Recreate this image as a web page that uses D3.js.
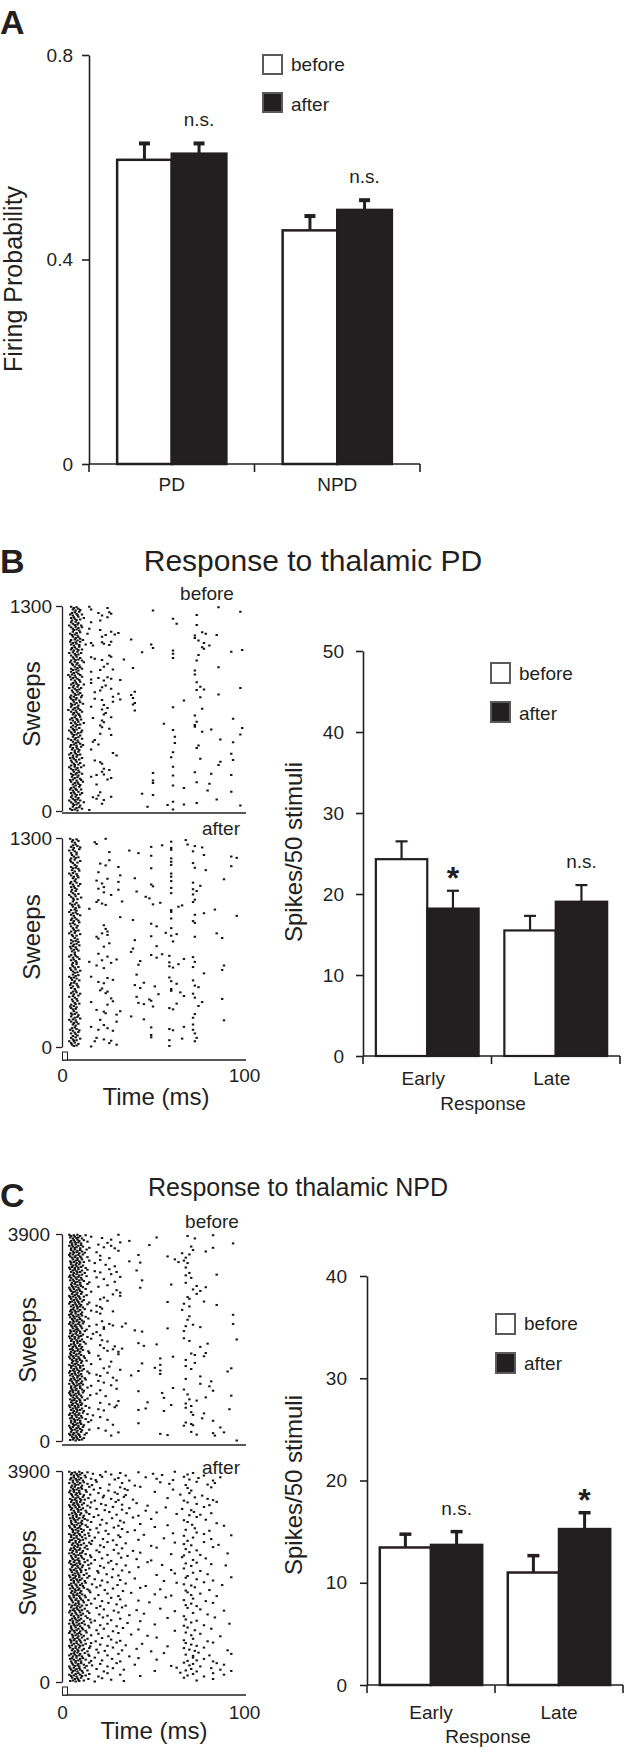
<!DOCTYPE html>
<html><head><meta charset="utf-8">
<script src="https://cdn.jsdelivr.net/npm/d3@7"></script>
<style>
body{margin:0;background:#fff}
svg text{font-family:"Liberation Sans",Arial,Helvetica,sans-serif;fill:#231f20}
</style>
</head><body>
<svg id="fig" width="625" height="1754"></svg>
<script>
// ---------------- DATA ----------------
// Panel A: firing probability
const aCategories = ["PD", "NPD"];
const aBefore = [0.595, 0.457];
const aBeforeErr = [0.032, 0.028];
const aAfter = [0.607, 0.497];
const aAfterErr = [0.020, 0.019];
const aTicks = [0, 0.4, 0.8];
const aSig = ["n.s.", "n.s."];

// Panel B: spikes / 50 stimuli (thalamic PD)
const bCategories = ["Early", "Late"];
const bBefore = [24.3, 15.5];
const bBeforeErr = [2.2, 1.8];
const bAfter = [18.2, 19.05];
const bAfterErr = [2.2, 2.05];
const bTicks = [0, 10, 20, 30, 40, 50];
const bSig = ["*", "n.s."];

// Panel C: spikes / 50 stimuli (thalamic NPD)
const cCategories = ["Early", "Late"];
const cBefore = [13.45, 11.0];
const cBeforeErr = [1.3, 1.65];
const cAfter = [13.7, 15.25];
const cAfterErr = [1.3, 1.6];
const cTicks = [0, 10, 20, 30, 40];
const cSig = ["n.s.", "*"];

const legendLabels = ["before", "after"];
const rasterTimeTicks = [0, 100];
const bSweepTicks = [0, 1300];
const cSweepTicks = [0, 3900];

// Raster spike times (ms), one string per sweep band, top (last sweep) to bottom (sweep 0)
const bBeforeRows = [
"5 6 6.5 7.5 8 9 10 15 16 25 50 86",
"4.5 5.5 6 7 8 8.5 9.5 11 20 22 26 27 74 98",
"5 5.5 6.5 7 8 9 10 12 21 25 61",
"4 5 6 7 7.5 8.5 9 10.5 16 63 74",
"5 6 6.5 7.5 8 9 9.5 11 15 21",
"4.5 5.5 6 7 8 8.5 10 14 24 27 29 31 73 77 79 85",
"5 6 7 7.5 8.5 9 10 11.5 22 38 73 75",
"4.5 5 6 6.5 7.5 8 9.5 10 13 16 17 22 23 26 27 49 78 81",
"5 5.5 6.5 7 8 9 9.5 11 50 61 77 78 99",
"4 5 6 7 7.5 8.5 9 10.5 26 44 61 75 93",
"5 6 6.5 7.5 8 9 10 11 16 18 22 27 34 61 74",
"4.5 5.5 6 7 8 8.5 9.5 12 25",
"5 6 7 7.5 8.5 9 10 11 21 23 28 39 73 86",
"3.5 5 5.5 6.5 7 8 9 10 16 73",
"4.5 5 6 7 7.5 8.5 9.5 11 16 20 23 25 27 32",
"5 6 6.5 7.5 8 9 10 12 16 24 74",
"4 5.5 6 7 8 8.5 9.5 10.5 21 22 27 74 76 78 98",
"5 6 7 7.5 8.5 9 10 11 18 31 38 40 86",
"4.5 5 6 6.5 7.5 8 9.5 10.5 18 22 28 32 39 67 76",
"5 5.5 6.5 7 8 9 10 11.5 23 28 39 40",
"3.5 5 6 7 7.5 8.5 9 10 16 22 25 40 61 77",
"5 6 6.5 7.5 8 9 9.5 11 23 24 73",
"4.5 5.5 6 7 8 8.5 10 10.5 17 22 27 94",
"5 6 7 7.5 8.5 9 10 12 21 23 56 73 74",
"4 5 6 6.5 7.5 8 9.5 11 22 26 61 73 82 99",
"5 5.5 6.5 7 8 9 10 10.5 21 27 77 98",
"3.5 5 6 7 7.5 8.5 9 11 18 62 87",
"5 6 6.5 7.5 8 9 10 11.5 17 20 62 75 94",
"4.5 5.5 6 7 8 8.5 9.5 10.5 16 74",
"4 5 6 7 7.5 8.5 9 10 28 30 61 93",
"4.5 5 6 6.5 7.5 8 9.5 11 18 60 76 94",
"5 5.5 6.5 7 8 9 10 12 21 22 86 87",
"4 5 6 7 7.5 8.5 9 10.5 23 26 61",
"5 6 6.5 7.5 8 9 9.5 11 19 22 23 50 61 73 82 93",
"4.5 5.5 6 7 8 8.5 10 10.5 16 25 27 50",
"5 6 7 7.5 8.5 9 10 11.5 19 50 61 74 81",
"4.5 5 6 6.5 7.5 8 9.5 10.5 67 80",
"5 5.5 6.5 7 8 9 10 11 20 21 44 50 93",
"4 5 6 7 7.5 8.5 9 10 17 19 23 27 85",
"5 6 6.5 7.5 8 9 10 12 22 58 61 67 74 98",
"4.5 5.5 6 7 8 8.5 9.5 11 15 47 61"
];
const bAfterRows = [
"4.5 5.5 6 7 8 9 18 24 60 68",
"5 6 6.5 7.5 8.5 10 19 49 55 60 69 73 77",
"4 5 6 7 8 9.5 26 37 42 60 72",
"5 5.5 6.5 7.5 8 9 49 60 78 93 96",
"4.5 5 6 7 8.5 10 21 26 60 72",
"5 6 7 7.5 8 9 24 31 49 60 73 93",
"4 5.5 6 7 8 9.5 20 60 79",
"5 6 6.5 7.5 8.5 9 25 32 40 60 89",
"4.5 5 6 7 8 10 19 22 31 49 60 72",
"5 5.5 6.5 7 8 9 20 23 31 50 60 72 76",
"4 5 6 7 7.5 9 23 27 41 60 72 74",
"5 6 6.5 7.5 8.5 10.5 20 46 48 73",
"4.5 5.5 6 7 8 9 19 22 24 33 50 54 66 72",
"5 6 7 7.5 8 9.5 15 60 64 84",
"4 5 6 6.5 7.5 8.5 10 60 73 78 96",
"5 5.5 6.5 7 8 9 32 39 60 72",
"4.5 5 6 7 8.5 9.5 23 49 52 73",
"5 6 6.5 7.5 8 9 24 25 60",
"4 5.5 6 7 8 10 19 22 25 49 57 60 63 73 85",
"5 6 7 7.5 8.5 9 20 40 61 88",
"4.5 5 6 6.5 7.5 8 9.5 23 26 52",
"5 5.5 6.5 7 8 9 38 39",
"4 5 6 7 7.5 8.5 20 25 49 52 55 59 72",
"5 6 6.5 7.5 8 9.5 15 22 27 30 43 59 67 73",
"4.5 5.5 6 7 8 9 19 23 42 59 61 64 72 89",
"5 6 7 7.5 8.5 10 78 88",
"4 5 6 6.5 7.5 8 9 16 25 41 59",
"5 5.5 6.5 7 8 9.5 20 23 28 45 60 63 72",
"4.5 5 6 7 8.5 9 22 40 43 51 60 73 75",
"5 6 6.5 7.5 8 10 21 24 25 53 60 65 72",
"4 5.5 6 7 8 9 27 41 48 67 73 88",
"5 6 7 7.5 8.5 9.5 16 25 28 42 45 49 63 77",
"4.5 5 6 6.5 7.5 8 19 50 59 61 75",
"5 5.5 6.5 7 8 9 23 24 30 32 73",
"4 5 6 7 7.5 8.5 10 21 38 45 72 89",
"5 6 6.5 7.5 8 9 23 30 72",
"4.5 5.5 6 7 8 9.5 16 20 25 28 49 59 61 67 72",
"5 6 7 7.5 8.5 9 49 73",
"4 5 6 6.5 7.5 8 10 18 19 23 27 49 59 66 73 74",
"5 5.5 6.5 7 8 9 16 26 30 59"
];
const cBeforeRows = [
"4 4.5 5 6 6.5 7 8 8.5 9 10 11 13 16 22 31 52 69 73 83",
"4.5 5 5.5 6.5 7 7.5 8.5 9 9.5 10.5 12 14 25 27 32 37 94",
"4 5 5.5 6 7 7.5 8 9 10 10.5 11.5 15 20 23 27 29 48 71 83",
"4.5 5 6 6.5 7 8 8.5 9.5 10 11 12.5 13.5 19 31 66 72 79",
"4 4.5 5.5 6 7 7.5 8.5 9 10 10.5 11.5 14 21 26 42 58 68 70",
"4.5 5 6 6.5 7.5 8 8.5 9.5 10 11 12 15 18 21 37 43 62 64 67 69",
"4 5 5.5 6 7 7.5 8 9 9.5 10.5 11.5 13 24 29 68",
"4.5 5 6 6.5 7 8 8.5 9 10 11 12.5 14 18 21 26 30 41 70",
"4 4.5 5 6 6.5 7.5 8 9 9.5 10.5 11 13.5 19 27 32 68 71 85",
"4.5 5.5 6 6.5 7.5 8 8.5 9.5 10 11 12 15 23 29 44 68",
"4 5 5.5 6 7 7.5 8.5 9 10 10.5 11.5 14 20 25 43 60 74 79",
"4.5 5 6 6.5 7 8 8.5 9.5 10 11 13 16 30 32 72 76",
"4 4.5 5.5 6 7 7.5 8 9 9.5 10.5 12 13.5 23 28 32 69 74",
"4.5 5 5.5 6.5 7 8 8.5 9 10 11 12 15 21 25 58 70 78",
"4 5 6 6.5 7.5 8 8.5 9.5 10 10.5 11.5 14 19 21 67 70 85",
"4.5 5 5.5 6 7 7.5 8.5 9 10 11 12.5 16 19 22 28 66",
"4 4.5 5 6 6.5 7.5 8 9 9.5 10.5 11 13 21 70 94",
"4.5 5.5 6 6.5 7 8 8.5 9.5 10 11 12 14.5 22 69",
"4 5 5.5 6 7 7.5 8 9 10 10.5 11.5 15 19 23 26 28 33 35 68 72 76 94",
"4.5 5 6 6.5 7.5 8 8.5 9 10 11 12.5 13.5 19 23 40 44 58 67",
"4 4.5 5.5 6 7 7.5 8.5 9.5 10 10.5 11.5 14 17 21",
"4.5 5 5.5 6.5 7 8 8.5 9 10 11 12 16 22 25 67 70 96",
"4 5 6 6.5 7 7.5 8.5 9.5 10 11 13 21 29 42 45 52 76 80",
"4.5 5 5.5 6 7 8 8.5 9 10 10.5 11.5 14.5 23 25 28 31 33",
"4 4.5 5 6 6.5 7.5 8 9 9.5 10.5 12 15 20 31 61 71 73 78 79",
"4.5 5.5 6 6.5 7.5 8 8.5 9.5 10 11 12.5 13.5 21 27 54 68",
"4 5 5.5 6 7 7.5 8 9 10 10.5 11.5 16 26 44 54 68 73",
"4.5 5 6 6.5 7 8 8.5 9.5 10 11 12 14 23 32 42 51 54 71 91 93",
"4 4.5 5.5 6 7 7.5 8.5 9 9.5 10.5 11 15 19 21 25 38 54 76",
"4.5 5 5.5 6.5 7 8 8.5 9 10 11 12.5 13 20 28 30 68 82",
"4 5 6 6.5 7.5 8 8.5 9.5 10 10.5 11.5 16 23 27 76 81",
"4.5 5 5.5 6 7 7.5 8 9 10 11 12 14 21 30 42 61 67 83",
"4 4.5 5 6 6.5 7.5 8 9 9.5 10.5 11.5 15.5 19 24 55 69 93",
"4.5 5.5 6 6.5 7 8 8.5 9.5 10 11 12.5 14 31 56 70 74 79",
"4 5 5.5 6 7 7.5 8.5 9 10 10.5 11 13 21 26 30 47 60 68 71",
"4.5 5 6 6.5 7.5 8 8.5 9 10 11 12 15 20 23 29 42 46 56 68 92",
"4 4.5 5.5 6 7 7.5 8 9 9.5 10.5 11.5 14 17 71 72 78",
"4.5 5 5.5 6.5 7 8 8.5 9.5 10 11 13 16 21 25 77 83",
"4 5 6 6.5 7 7.5 8.5 9 10 10.5 12 14.5 28 42 67 68 71 72",
"4.5 5 5.5 6 7 8 8.5 9 10 11 11.5 15 20 24 87",
"4 4.5 5 6 6.5 7.5 8 9 9.5 10.5 12.5 13.5 27 31 54 58 71 74 83 84 89",
"4.5 5.5 6 6.5 7.5 8 8.5 9.5 10 11 12 96"
];
const cAfterRows = [
"4 5 5.5 6.5 7 8 8.5 9.5 10 11 12.5 14 17 21 24 27 32 35 42 50 55 62 69 72 78",
"4.5 5 6 6.5 7.5 8 9 9.5 10.5 11.5 13 16 18.5 22 29 31 37 46 52 61 67 70 75 83 87",
"4 5.5 6 7 7.5 8.5 9 10 11 12 14 16.5 19 26 33 40 54 59 68 74 80 84",
"4.5 5 6 6.5 7 8 9 9.5 10.5 11 13 15 17.5 21 25.5 32 34.5 36 43 61 69 71 82",
"4 5 5.5 6.5 7.5 8 8.5 9.5 10 12 13.5 15.5 20 23 29 30.5 35 51 65 70 77",
"4.5 5.5 6 7 7.5 8 9 10 10.5 11.5 12.5 14.5 18 22.5 27 31 34 39 58 67 73 80 83",
"4 5 6 6.5 7 8 8.5 9 10 11 12 14 16 21.5 24 29.5 33 41 47 69 74 81 85",
"4.5 5 5.5 6.5 7.5 8.5 9 9.5 10.5 11.5 13 15.5 19 23.5 28 33 37 46 57 66 71 78",
"4 5.5 6 7 7.5 8 9 10 10.5 12 13.5 15 20 26 30 35.5 42 52 63 70 72.5 76 82",
"4.5 5 6 6.5 7 8 8.5 9.5 11 11.5 12.5 14 17.5 22 27.5 32 39 49 67 74 79",
"4 5 5.5 6.5 7.5 8 9 10 10.5 11 13 16 21 24.5 31 34 43 58 69 71.5 85 89",
"4.5 5.5 6 7 7.5 8.5 9 9.5 10.5 12 14 15.5 19 24 28.5 33 40 51 68 73 81",
"4 5 6 6.5 7 8 8.5 9.5 10 11 12.5 14.5 15 20 25.5 31 36 45 61 67 74 78 93",
"4.5 5 5.5 6.5 7.5 8 9 10 11 11.5 13 16.5 18 22.5 28 32 42 56 69 72 82",
"4 5.5 6 7 7.5 8.5 9 9.5 10.5 12 13.5 15 16 21 25 30 35 49 62 67 71 78 86",
"4.5 5 6 6.5 7 8 8.5 9.5 10 11.5 12.5 14 19 23 28.5 33 39 52 68 74 83",
"4 5 5.5 6.5 7.5 8 9 10 10.5 11 13 15.5 20.5 25 31 36 43 60 67 70 76 91",
"4.5 5.5 6 7 7.5 8.5 9 9.5 11 12 14 16 18 22 27 32.5 41 49 66 72 79",
"4 5 6 6.5 7 8 8.5 9.5 10 11.5 12.5 14.5 16 21 25.5 30 35 47 55 68 71 74 82 90",
"4.5 5 5.5 6.5 7.5 8 9 10 10.5 11 13 15 19.5 23 28 33 42 60 67 76",
"4 5.5 6 7 7.5 8.5 9 9.5 10.5 12 13.5 15 20 24.5 31 37 52 62 69 72 80",
"4.5 5 6 6.5 7 8 8.5 9.5 10 11 12.5 14 18 22 27.5 32 40 56 68 74 83 93",
"4 5 5.5 6.5 7.5 8 9 10 11 11.5 13 16.5 21 25 30.5 35 46 63 67 71 78 88",
"4.5 5.5 6 7 7.5 8.5 9 9.5 10.5 12 14 15 19 23.5 28 33.5 43 54 68 73 81",
"4 5 6 6.5 7 8 8.5 9.5 10 11 12.5 15.5 20 25 31 38 51 60 69 71 76 85",
"4.5 5 5.5 6.5 7.5 8 9 10 10.5 11.5 13 14.5 18 22 27 32 42 57 67 72 79",
"4 5.5 6 7 7.5 8.5 9 9.5 11 12 13.5 16 21 25.5 30 35 48 68 71 74 83",
"4.5 5 6 6.5 7 8 8.5 9.5 10 11 12.5 14 19 23 28.5 33 41 54 62 69 76 89",
"4 5 5.5 6.5 7.5 8 9 10 10.5 11.5 13 15 20.5 25 31 37 45 67 72 80",
"4.5 5.5 6 7 7.5 8.5 9 9.5 10.5 12 14 15.5 18 22.5 27 32 43 58 68 74 84",
"4 5 6 6.5 7 8 8.5 9.5 10 11 12.5 14.5 16 21 25 30 36 51 67 71 78 92",
"4.5 5 5.5 6.5 7.5 8 9 10 11 11.5 13 15 19 23 28 33.5 42 62 69 73 82",
"4 5.5 6 7 7.5 8.5 9 9.5 10.5 12 13.5 16 20 25.5 31 38 47 68 71 76 87",
"4.5 5 6 6.5 7 8 8.5 9.5 10 11 12.5 14 18.5 22 27 32 52 67 72 80",
"4 5 5.5 6.5 7.5 8 9 10 10.5 11.5 13 15.5 16 21 25 30 35 44 58 68 71 74 83",
"4.5 5.5 6 7 7.5 8.5 9 9.5 11 12 14 15 19 23.5 28 33 41 49 67 70 73 78 91",
"4 5 6 6.5 7 8 8.5 9.5 10 11 12.5 14.5 15 20 25 31 37 56 68 72 75 81 93",
"4.5 5 5.5 6.5 7.5 8 9 10 10.5 11.5 13 16 18 22 27.5 32 42 52 69 72 74 78 83",
"4 5.5 6 7 7.5 8.5 9 9.5 10.5 12 13.5 15 16.5 21 25 30 40 60 67 70 72 76 85 89",
"4.5 5 6 6.5 7 8 8.5 9.5 10 11 12.5 14 19 23 28 34 51 63 68 71 74 82 87 93",
"4 5 5.5 6.5 7.5 8 9 10 11 11.5 13 15 20 25 32 43 65 69 72 78 83 89",
"4.5 5.5 6 7 7.5 8.5 9 9.5 10.5 12 14.5 18 22 27 34 67 74 83"
];

// ---------------- DRAWING ----------------
const INK = "#231f20";
const svg = d3.select("#fig");

function styleAxis(sel, fs, sw) {
  sel.selectAll("path.domain").attr("stroke", INK).attr("stroke-width", sw);
  sel.selectAll(".tick line").attr("stroke", INK).attr("stroke-width", sw);
  sel.selectAll(".tick text").attr("fill", INK).style("font-size", fs + "px")
     .style("font-family", '"Liberation Sans",Arial,sans-serif');
}

function barChart(c) {
  const g = svg.append("g");
  const x = d3.scaleBand().domain(c.cats).range([c.xL, c.xR]);
  const y = d3.scaleLinear().domain([0, c.yMax]).range([c.yBot, c.yTop]);
  const bw = x.bandwidth(), w = bw * c.barFrac;
  const data = c.cats.flatMap((k, i) => [
    {k, v: c.before[i], e: c.beforeErr[i], fill: "#fff", x0: x(k) + bw / 2 - w},
    {k, v: c.after[i], e: c.afterErr[i], fill: INK, x0: x(k) + bw / 2, sig: c.sig[i]}
  ]);
  g.selectAll("line.err").data(data).join("line").attr("class", "err")
    .attr("x1", d => d.x0 + w / 2).attr("x2", d => d.x0 + w / 2)
    .attr("y1", d => y(d.v)).attr("y2", d => y(d.v + d.e))
    .attr("stroke", INK).attr("stroke-width", c.errW);
  g.selectAll("line.cap").data(data).join("line").attr("class", "cap")
    .attr("x1", d => d.x0 + w / 2 - c.capW / 2).attr("x2", d => d.x0 + w / 2 + c.capW / 2)
    .attr("y1", d => y(d.v + d.e)).attr("y2", d => y(d.v + d.e))
    .attr("stroke", INK).attr("stroke-width", c.capH);
  g.selectAll("rect.bar").data(data).join("rect").attr("class", "bar")
    .attr("x", d => d.x0).attr("y", d => y(d.v))
    .attr("width", w).attr("height", d => y(0) - y(d.v))
    .attr("fill", d => d.fill).attr("stroke", INK).attr("stroke-width", c.barSW);
  const ya = g.append("g").attr("transform", `translate(${c.xL},0)`)
    .call(d3.axisLeft(y).tickValues(c.ticks).tickFormat(c.fmt).tickSize(7).tickSizeOuter(0).tickPadding(c.tickPad));
  styleAxis(ya, 19, c.axisW);
  g.append("line").attr("x1", c.xL).attr("x2", c.xR).attr("y1", y(0)).attr("y2", y(0))
    .attr("stroke", INK).attr("stroke-width", c.axisW);
  const edges = [c.xL].concat(c.cats.map(k => x(k) + bw));
  g.selectAll("line.xt").data(edges).join("line").attr("class", "xt")
    .attr("x1", d => d).attr("x2", d => d).attr("y1", y(0)).attr("y2", y(0) + 8)
    .attr("stroke", INK).attr("stroke-width", c.axisW);
  g.selectAll("text.cat").data(c.cats).join("text").attr("class", "cat")
    .attr("x", k => x(k) + bw / 2 + (c.catDx || 0)).attr("y", c.catY)
    .attr("text-anchor", "middle").style("font-size", "19px").text(k => k);
  data.filter(d => d.sig).forEach(d => {
    const cx = d.x0 + w / 2, capY = y(d.v + d.e);
    if (d.sig === "*") {
      g.append("text").attr("x", cx).attr("y", capY - 20 + 0.56 * 32)
        .attr("text-anchor", "middle").style("font-size", "32px").style("font-weight", "bold").text(d.sig);
    } else {
      g.append("text").attr("x", cx).attr("y", capY - 17)
        .attr("text-anchor", "middle").style("font-size", "19px").text(d.sig);
    }
  });
  legendLabels.forEach((lab, i) => {
    g.append("rect").attr("x", c.leg.x).attr("y", c.leg.ys[i]).attr("width", 19).attr("height", c.leg.h)
      .attr("fill", i === 0 ? "#fff" : INK).attr("stroke", "#5a5a5a").attr("stroke-width", 2);
    g.append("text").attr("x", c.leg.x + 28).attr("y", c.leg.base[i]).style("font-size", "19px").text(lab);
  });
  g.append("text").attr("transform", `translate(${c.yl.x},${c.yl.y}) rotate(-90)`)
    .attr("text-anchor", "middle").style("font-size", c.yl.fs + "px").text(c.yl.text);
  if (c.resp) {
    g.append("text").attr("x", c.resp.x).attr("y", c.resp.y).attr("text-anchor", "middle")
      .style("font-size", "19px").text("Response");
  }
}

function raster(c) {
  const g = svg.append("g");
  const x = d3.scaleLinear().domain([0, 100]).range([62, 244]);
  const y = d3.scaleLinear().domain([0, c.max]).range([c.yBot, c.yTop]);
  const N = c.rows.length;
  const sub = [0.15, 0.7, 0.4, 0.9, 0.25, 0.55, 0.8];   // vertical stagger of spikes within a sweep band
  const dots = c.rows.flatMap((s, i) => s.trim().split(/\s+/).map(Number)
    .map((t, k) => ({t, sw: c.max * (1 - (i + sub[(k + i) % sub.length]) / N)})));
  g.selectAll("rect.dot").data(dots).join("rect").attr("class", "dot")
    .attr("x", d => x(d.t) - 1.2).attr("y", d => y(d.sw) - 1)
    .attr("width", 2.4).attr("height", 2).attr("fill", "#151515");
  const ya = g.append("g").attr("transform", "translate(62,0)")
    .call(d3.axisLeft(y).tickValues(c.ticks).tickFormat(d3.format("d")).tickSize(6).tickSizeOuter(0).tickPadding(c.pad));
  styleAxis(ya, 19, 1.3);
  if (c.showX) {
    const xa = g.append("g").attr("transform", `translate(0,${c.xAxisY})`)
      .call(d3.axisBottom(x).tickValues(rasterTimeTicks).tickFormat(d3.format("d")).tickSize(0).tickSizeOuter(0).tickPadding(c.xPad));
    styleAxis(xa, 19, 1.3);
    xa.select("path.domain").attr("d", "M62,0H246");
    g.append("rect").attr("x", 62.5).attr("y", c.stim[0]).attr("width", 5).attr("height", c.stim[1] - c.stim[0])
      .attr("fill", "#fff").attr("stroke", INK).attr("stroke-width", 1);
    g.append("text").attr("x", c.timeX).attr("y", c.timeY).attr("text-anchor", "middle")
      .style("font-size", "24px").text("Time (ms)");
  } else {
    g.append("line").attr("x1", 62).attr("x2", 246).attr("y1", c.xAxisY).attr("y2", c.xAxisY)
      .attr("stroke", INK).attr("stroke-width", 1.3);
  }
  g.append("text").attr("x", c.lab.x).attr("y", c.lab.y).attr("text-anchor", "middle")
    .style("font-size", "19px").text(c.lab.text);
  g.append("text").attr("transform", `translate(${c.sweeps.x},${c.sweeps.y}) rotate(-90)`)
    .attr("text-anchor", "middle").style("font-size", "24px").text("Sweeps");
}

// ---- Panel letters & titles ----
svg.append("text").attr("x", 0).attr("y", 34).style("font-size", "34px").style("font-weight", "bold").text("A");
svg.append("text").attr("x", 0).attr("y", 573).style("font-size", "34px").style("font-weight", "bold").text("B");
svg.append("text").attr("x", 0).attr("y", 1207).style("font-size", "34px").style("font-weight", "bold").text("C");
svg.append("text").attr("x", 313).attr("y", 571).attr("text-anchor", "middle").style("font-size", "30px").text("Response to thalamic PD");
svg.append("text").attr("x", 298).attr("y", 1196).attr("text-anchor", "middle").style("font-size", "25px").text("Response to thalamic NPD");

// ---- Panel A ----
barChart({
  cats: aCategories, before: aBefore, beforeErr: aBeforeErr, after: aAfter, afterErr: aAfterErr, sig: aSig,
  yMax: 0.8, ticks: aTicks, fmt: d => d === 0 ? "0" : d3.format(".1f")(d),
  xL: 89, xR: 420, yBot: 464, yTop: 55, barFrac: 0.33,
  errW: 3, capW: 11, capH: 4, barSW: 2.5, axisW: 1.6, tickPad: 9, catY: 491,
  leg: {x: 263, ys: [55, 93], h: 19, base: [71, 111]},
  yl: {x: 22, y: 279, fs: 25, text: "Firing Probability"}
});

// ---- Panel B ----
raster({rows: bBeforeRows, max: 1300, ticks: bSweepTicks, yTop: 606, yBot: 811, pad: 4, xAxisY: 813,
  showX: false, lab: {x: 207, y: 600, text: "before"}, sweeps: {x: 40, y: 704}});
raster({rows: bAfterRows, max: 1300, ticks: bSweepTicks, yTop: 838, yBot: 1047, pad: 4, xAxisY: 1060,
  showX: true, xPad: 9, stim: [1052, 1060], timeX: 156, timeY: 1105,
  lab: {x: 221, y: 835, text: "after"}, sweeps: {x: 40, y: 937}});
barChart({
  cats: bCategories, before: bBefore, beforeErr: bBeforeErr, after: bAfter, afterErr: bAfterErr, sig: bSig,
  yMax: 50, ticks: bTicks, fmt: d3.format("d"),
  xL: 363, xR: 620, yBot: 1056, yTop: 651, barFrac: 0.4,
  errW: 2.2, capW: 12, capH: 2.2, barSW: 2.2, axisW: 1.6, tickPad: 12, catY: 1085, catDx: -4,
  leg: {x: 491, ys: [663, 702], h: 20, base: [680, 720]},
  yl: {x: 302, y: 852, fs: 24, text: "Spikes/50 stimuli"},
  resp: {x: 483, y: 1110}
});

// ---- Panel C ----
raster({rows: cBeforeRows, max: 3900, ticks: cSweepTicks, yTop: 1234, yBot: 1441, pad: 6, xAxisY: 1445,
  showX: false, lab: {x: 212, y: 1228, text: "before"}, sweeps: {x: 36, y: 1340}});
raster({rows: cAfterRows, max: 3900, ticks: cSweepTicks, yTop: 1471, yBot: 1682, pad: 6, xAxisY: 1695,
  showX: true, xPad: 11, stim: [1687, 1695], timeX: 154, timeY: 1739,
  lab: {x: 221, y: 1474, text: "after"}, sweeps: {x: 36, y: 1573}});
barChart({
  cats: cCategories, before: cBefore, beforeErr: cBeforeErr, after: cAfter, afterErr: cAfterErr, sig: cSig,
  yMax: 40, ticks: cTicks, fmt: d3.format("d"),
  xL: 367, xR: 623, yBot: 1685, yTop: 1276, barFrac: 0.4,
  errW: 3, capW: 12, capH: 3.5, barSW: 2.5, axisW: 1.6, tickPad: 13, catY: 1719,
  leg: {x: 496, ys: [1314, 1353], h: 20, base: [1330, 1370]},
  yl: {x: 302, y: 1485, fs: 24, text: "Spikes/50 stimuli"},
  resp: {x: 488, y: 1743}
});
</script>
</body></html>
